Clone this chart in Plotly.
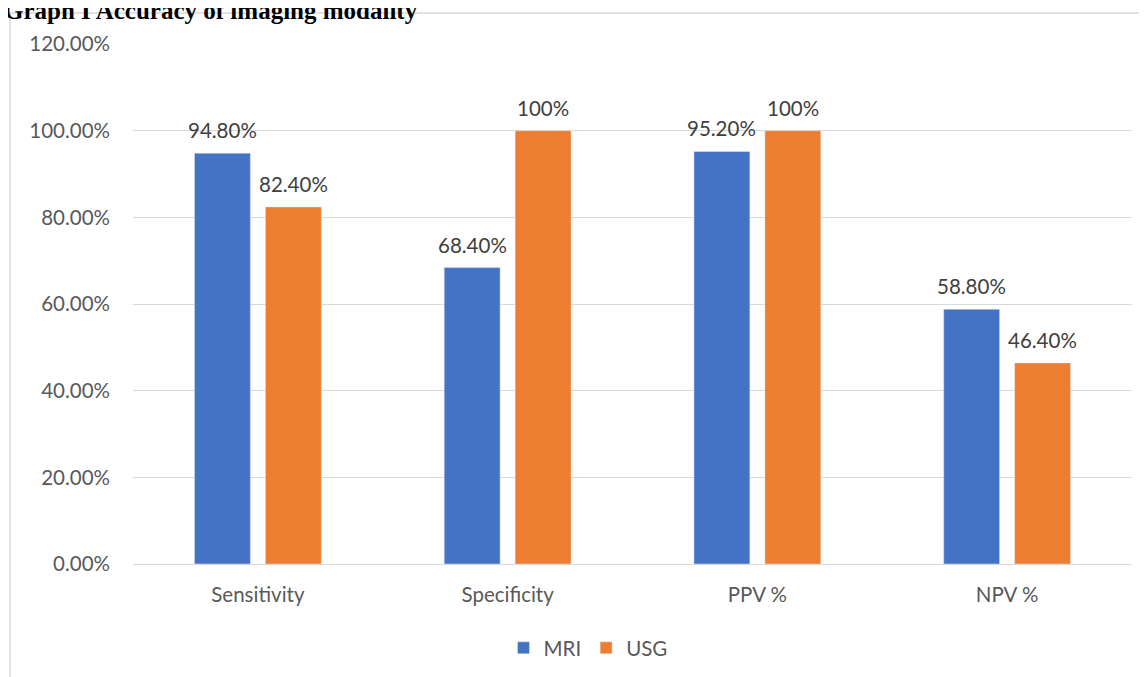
import plotly.graph_objects as go

categories = ["Sensitivity", "Specificity", "PPV %", "NPV %"]
mri_values = [0.948, 0.684, 0.952, 0.588]
usg_values = [0.824, 1.00, 1.00, 0.464]
mri_labels = ["94.80%", "68.40%", "95.20%", "58.80%"]
usg_labels = ["82.40%", "100%", "100%", "46.40%"]
title_text = "Graph I Accuracy of imaging modality"

OFF = 8  # browser body margin
W, H = 1147 - OFF, 677 - OFF
L, R, T, B = 133 - OFF, 15, 44 - OFF, 113
pw, ph = W - L - R, H - T - B

def px(x):  # screen px -> paper
    return (x - OFF - L) / pw

def py(y):
    return (H - B - (y - OFF)) / ph

FONT = "Lato"
FS = 20.5
fig = go.Figure()
fig.add_trace(go.Bar(name="MRI", x=categories, y=mri_values, marker_color="#4472C4"))
fig.add_trace(go.Bar(name="USG", x=categories, y=usg_values, marker_color="#ED7D31"))

# data labels via axis coordinates
for vals, labs, shift in [(mri_values, mri_labels, -35.5), (usg_values, usg_labels, 35.5)]:
    for c, v, t in zip(categories, vals, labs):
        fig.add_annotation(x=c, y=v, xref="x", yref="y", text=t, showarrow=False,
                           xshift=shift, yshift=23, yanchor="middle", xanchor="center",
                           font=dict(family=FONT, size=FS, color="#404040"))

fig.update_layout(
    width=W, height=H,
    margin=dict(l=L, r=R, t=T, b=B, autoexpand=False),
    paper_bgcolor="white", plot_bgcolor="white",
    barmode="group", bargap=0.432, bargroupgap=0.211,
    font=dict(family=FONT, size=FS, color="#595959"),
    showlegend=True,
    legend=dict(orientation="h", x=px(588), xanchor="center", y=py(648), yanchor="middle",
                font=dict(family=FONT, size=FS, color="#595959"),
                traceorder="normal", itemwidth=30),
    xaxis=dict(showgrid=False, showline=False, ticks="", tickfont=dict(size=FS, color="#595959"),
               ticklabelstandoff=16),
    yaxis=dict(range=[0, 1.2], dtick=0.2, tickformat=".2%", showgrid=True,
               gridcolor="#d9d9d9", gridwidth=1.3, zeroline=True, zerolinecolor="#d9d9d9",
               zerolinewidth=1.3, showline=False, ticks="", ticklabelstandoff=22,
               tickfont=dict(size=FS, color="#595959")),
)

fig.add_shape(type="rect", xref="paper", yref="paper",
              x0=px(10), x1=px(1170), y0=py(700), y1=py(13),
              line=dict(color="#d9d9d9", width=1.5), fillcolor="rgba(0,0,0,0)", layer="below")

fig.add_annotation(text="<b>" + title_text + "</b>", xref="paper", yref="paper",
                   x=px(420), y=py(26), xanchor="right", yanchor="bottom", showarrow=False,
                   font=dict(family="Liberation Serif", size=25, color="black"))

fig.write_html("out.html")
